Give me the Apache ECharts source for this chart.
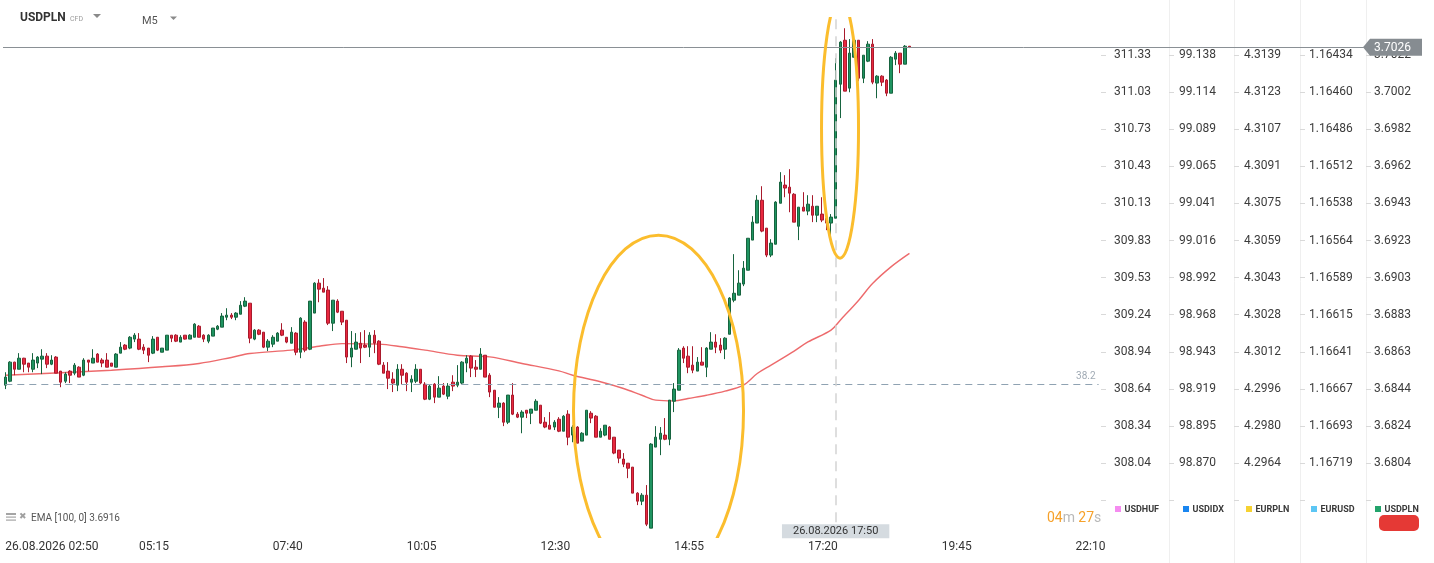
<!DOCTYPE html>
<html><head><meta charset="utf-8">
<script src="https://cdn.jsdelivr.net/npm/echarts@6/dist/echarts.min.js"></script>
<style>html,body{margin:0;padding:0;background:#fff;}#c{width:1434px;height:563px;}</style>
</head><body><div id="c"></div>
<script>
// ---------------- data ----------------
const tickLabels = ['26.08.2026 02:50','05:15','07:40','10:05','12:30','14:55','17:20','19:45','22:10'];
const openP = [3.68456,3.68477,3.68579,3.68541,3.68600,3.68574,3.68541,3.68574,3.68595,3.68611,
3.68568,3.68606,3.68531,3.68477,3.68531,3.68520,3.68552,3.68509,3.68590,3.68574,
3.68622,3.68590,3.68590,3.68574,3.68552,3.68627,3.68670,3.68654,3.68702,3.68702,
3.68659,3.68654,3.68627,3.68712,3.68632,3.68643,3.68723,3.68723,3.68686,3.68723,
3.68702,3.68712,3.68771,3.68723,3.68691,3.68718,3.68755,3.68766,3.68819,3.68830,
3.68819,3.68835,3.68878,3.68894,3.68702,3.68750,3.68739,3.68659,3.68675,3.68691,
3.68750,3.68712,3.68680,3.68734,3.68632,3.68793,3.68648,3.68841,3.69001,3.68974,
3.68964,3.68787,3.68905,3.68851,3.68803,3.68606,3.68648,3.68680,3.68670,3.68659,
3.68723,3.68691,3.68563,3.68531,3.68488,3.68456,3.68541,3.68520,3.68472,3.68477,
3.68541,3.68461,3.68381,3.68461,3.68392,3.68451,3.68397,3.68472,3.68456,3.68467,
3.68574,3.68611,3.68552,3.68541,3.68616,3.68509,3.68429,3.68338,3.68360,3.68258,
3.68403,3.68301,3.68285,3.68322,3.68306,3.68322,3.68349,3.68258,3.68242,3.68232,
3.68274,3.68210,3.68301,3.68189,3.68232,3.68157,3.68189,3.68306,3.68290,3.68178,
3.68189,3.68232,3.68178,3.68109,3.68061,3.68039,3.68018,3.67879,3.67836,3.67868,
3.67692,3.68125,3.68167,3.68189,3.68167,3.68370,3.68429,3.68654,3.68611,3.68563,
3.68531,3.68579,3.68552,3.68648,3.68686,3.68670,3.68648,3.68728,3.68910,3.68937,
3.68996,3.69070,3.69231,3.69322,3.69444,3.69295,3.69151,3.69209,3.69428,3.69525,
3.69514,3.69476,3.69305,3.69407,3.69386,3.69412,3.69364,3.69370,3.69348,3.69322,
3.69348,3.70064,3.70299,3.70043,3.70208,3.70299,3.70096,3.70187,3.70278,3.70070,
3.70107,3.70086,3.70016,3.70198,3.70230,3.70171,3.70267];
const closeP = [3.68499,3.68579,3.68541,3.68600,3.68568,3.68552,3.68590,3.68606,3.68611,3.68568,
3.68590,3.68520,3.68472,3.68515,3.68509,3.68563,3.68499,3.68590,3.68579,3.68600,
3.68579,3.68574,3.68552,3.68557,3.68622,3.68659,3.68648,3.68712,3.68723,3.68648,
3.68643,3.68616,3.68702,3.68643,3.68654,3.68723,3.68707,3.68691,3.68712,3.68702,
3.68723,3.68782,3.68712,3.68702,3.68723,3.68761,3.68771,3.68825,3.68830,3.68819,
3.68841,3.68883,3.68905,3.68707,3.68750,3.68728,3.68659,3.68691,3.68712,3.68734,
3.68723,3.68686,3.68739,3.68632,3.68814,3.68643,3.68905,3.69001,3.68969,3.68953,
3.68787,3.68910,3.68846,3.68793,3.68606,3.68654,3.68686,3.68654,3.68659,3.68723,
3.68680,3.68568,3.68520,3.68493,3.68467,3.68541,3.68509,3.68472,3.68488,3.68541,
3.68467,3.68381,3.68451,3.68392,3.68440,3.68408,3.68451,3.68451,3.68472,3.68579,
3.68600,3.68547,3.68541,3.68622,3.68499,3.68419,3.68338,3.68360,3.68258,3.68403,
3.68301,3.68285,3.68312,3.68306,3.68328,3.68370,3.68253,3.68232,3.68221,3.68258,
3.68210,3.68290,3.68178,3.68232,3.68146,3.68199,3.68322,3.68280,3.68178,3.68210,
3.68242,3.68167,3.68093,3.68066,3.68034,3.68012,3.67879,3.67836,3.67868,3.67713,
3.68141,3.68178,3.68199,3.68167,3.68376,3.68435,3.68643,3.68600,3.68552,3.68536,
3.68579,3.68563,3.68654,3.68686,3.68659,3.68643,3.68707,3.68921,3.68947,3.69001,
3.69081,3.69241,3.69327,3.69444,3.69279,3.69151,3.69215,3.69434,3.69541,3.69509,
3.69482,3.69327,3.69407,3.69386,3.69423,3.69364,3.69412,3.69338,3.69322,3.69354,
3.70086,3.70289,3.70027,3.70230,3.70299,3.70096,3.70219,3.70278,3.70075,3.70107,
3.70075,3.70016,3.70208,3.70230,3.70171,3.70267,3.70262];
const highP = [3.68525,3.68584,3.68581,3.68627,3.68602,3.68574,3.68627,3.68611,3.68648,3.68627,
3.68616,3.68611,3.68531,3.68525,3.68536,3.68574,3.68557,3.68600,3.68590,3.68648,
3.68627,3.68600,3.68627,3.68574,3.68627,3.68686,3.68675,3.68718,3.68734,3.68734,
3.68675,3.68654,3.68718,3.68712,3.68654,3.68723,3.68723,3.68728,3.68723,3.68723,
3.68728,3.68787,3.68777,3.68728,3.68728,3.68761,3.68777,3.68841,3.68867,3.68841,
3.68846,3.68905,3.68926,3.68894,3.68755,3.68755,3.68739,3.68702,3.68723,3.68739,
3.68787,3.68712,3.68766,3.68739,3.68819,3.68803,3.68905,3.69006,3.69022,3.69028,
3.68985,3.68910,3.68915,3.68851,3.68803,3.68745,3.68734,3.68739,3.68750,3.68739,
3.68750,3.68696,3.68579,3.68579,3.68525,3.68568,3.68568,3.68525,3.68509,3.68568,
3.68541,3.68472,3.68461,3.68467,3.68504,3.68467,3.68467,3.68509,3.68563,3.68584,
3.68616,3.68616,3.68590,3.68654,3.68616,3.68520,3.68429,3.68392,3.68365,3.68403,
3.68467,3.68312,3.68322,3.68322,3.68328,3.68381,3.68349,3.68285,3.68312,3.68269,
3.68285,3.68296,3.68322,3.68242,3.68237,3.68205,3.68322,3.68317,3.68296,3.68226,
3.68242,3.68237,3.68178,3.68109,3.68093,3.68039,3.68018,3.67884,3.67879,3.67922,
3.68146,3.68237,3.68232,3.68280,3.68376,3.68467,3.68654,3.68664,3.68664,3.68664,
3.68606,3.68659,3.68659,3.68739,3.68728,3.68707,3.68712,3.68926,3.69156,3.69070,
3.69119,3.69241,3.69359,3.69471,3.69519,3.69295,3.69236,3.69439,3.69594,3.69578,
3.69610,3.69482,3.69407,3.69487,3.69471,3.69471,3.69412,3.69460,3.69364,3.69370,
3.70203,3.70294,3.70363,3.70305,3.70331,3.70299,3.70219,3.70294,3.70305,3.70112,
3.70112,3.70091,3.70214,3.70241,3.70230,3.70273,3.70267];
const lowP = [3.68435,3.68472,3.68509,3.68541,3.68525,3.68525,3.68525,3.68547,3.68515,3.68547,
3.68563,3.68520,3.68445,3.68467,3.68467,3.68509,3.68499,3.68504,3.68531,3.68574,
3.68579,3.68552,3.68552,3.68557,3.68552,3.68627,3.68643,3.68648,3.68686,3.68643,
3.68622,3.68579,3.68622,3.68638,3.68632,3.68643,3.68686,3.68686,3.68686,3.68700,
3.68702,3.68712,3.68712,3.68686,3.68680,3.68718,3.68750,3.68766,3.68803,3.68809,
3.68803,3.68835,3.68873,3.68680,3.68696,3.68723,3.68654,3.68638,3.68659,3.68691,
3.68718,3.68680,3.68680,3.68616,3.68600,3.68632,3.68643,3.68841,3.68899,3.68953,
3.68777,3.68745,3.68841,3.68777,3.68574,3.68552,3.68648,3.68574,3.68654,3.68606,
3.68627,3.68563,3.68520,3.68435,3.68419,3.68424,3.68461,3.68424,3.68419,3.68467,
3.68461,3.68376,3.68376,3.68360,3.68392,3.68403,3.68381,3.68424,3.68445,3.68461,
3.68525,3.68499,3.68499,3.68541,3.68499,3.68392,3.68338,3.68280,3.68237,3.68248,
3.68296,3.68280,3.68199,3.68280,3.68248,3.68322,3.68248,3.68226,3.68221,3.68216,
3.68205,3.68210,3.68135,3.68151,3.68146,3.68157,3.68189,3.68253,3.68178,3.68178,
3.68183,3.68167,3.68087,3.68039,3.68018,3.67959,3.67879,3.67815,3.67815,3.67703,
3.67692,3.68125,3.68082,3.68162,3.68135,3.68312,3.68429,3.68574,3.68520,3.68520,
3.68531,3.68563,3.68499,3.68648,3.68627,3.68627,3.68595,3.68728,3.68899,3.68937,
3.68985,3.69070,3.69231,3.69322,3.69273,3.69140,3.69140,3.69209,3.69428,3.69460,
3.69380,3.69327,3.69231,3.69386,3.69364,3.69327,3.69327,3.69327,3.69284,3.69247,
3.69348,3.69883,3.70027,3.70021,3.70208,3.70080,3.70070,3.70182,3.70064,3.69989,
3.70054,3.70000,3.70016,3.70166,3.70123,3.70171,3.70257];
const emaIdx = [0,12,23,34,42,49,53,62,68,73,81,86,91,98,105,112,120,123,129,134,138,141,145,148,152,156,160,163,166,171,174,179,181,185,188,192,196];
const emaVal = [3.68509,3.68522,3.68536,3.68554,3.68572,3.68604,3.68625,3.68643,3.68664,3.68678,3.68675,3.68661,3.68643,3.68616,3.68607,3.68572,3.68532,3.68509,3.68474,3.68438,3.68402,3.68376,3.68372,3.68385,3.68402,3.68424,3.68456,3.68518,3.68563,3.68638,3.68687,3.68750,3.68803,3.68910,3.68999,3.69088,3.69160];
const colUSDHUF = ['311.33','311.03','310.73','310.43','310.13','309.83','309.53','309.24','308.94','308.64','308.34','308.04'];
const colUSDIDX = ['99.138','99.114','99.089','99.065','99.041','99.016','98.992','98.968','98.943','98.919','98.895','98.870'];
const colEURPLN = ['4.3139','4.3123','4.3107','4.3091','4.3075','4.3059','4.3043','4.3028','4.3012','4.2996','4.2980','4.2964'];
const colEURUSD = ['1.16434','1.16460','1.16486','1.16512','1.16538','1.16564','1.16589','1.16615','1.16641','1.16667','1.16693','1.16719'];
const colUSDPLN = ['3.7022','3.7002','3.6982','3.6962','3.6943','3.6923','3.6903','3.6883','3.6863','3.6844','3.6824','3.6804'];
const legendNames = ['USDHUF','USDIDX','EURPLN','EURUSD','USDPLN'];
const legendColors = ['#f58cf0','#1a86f0','#f6d232','#5cc6f4','#23a36b'];
const fibLevel = 3.68461, fibLabel = '38.2', fibEndIdx = 237;
const markIdx = 180, markDate = '26.08.2026';
const vLineLow = 3.67724, vLineHigh = 3.70417;
// annotation ellipses: [centre index, centre price, radius in bars, radius in price]
const ellipses = [[141.6, 3.68319, 18.43, 0.009383], [180.95, 3.69829, 4.01, 0.006946]];
const yMin = 3.676393, yMax = 3.704231;
// ---------------- build ----------------
const NCAT = 295, BAND = 4.613;
const pad = n => (n < 10 ? '0' : '') + n;
const times = [];
for (let i = 0; i < NCAT; i++) { const m = 170 + 5 * i; times.push(pad(Math.floor(m / 60)) + ':' + pad(m % 60)); }
const candles = openP.map((o, i) => [o, closeP[i], lowP[i], highP[i]]);
const emaData = emaIdx.map((x, k) => [x, emaVal[k]]);
const lastClose = closeP[closeP.length - 1];
const FONT = 'Roboto, "Noto Sans", sans-serif';

const cols = [colUSDHUF, colUSDIDX, colEURPLN, colEURUSD, colUSDPLN];
const colOffsets = [0, 68, 133, 199, 265];
const colMargins = [13, 10, 10, 9, 8];
const labelAxes = cols.map((arr, k) => ({
  type: 'value', gridIndex: 1, position: 'right', offset: colOffsets[k],
  min: 0, max: 12.5, interval: 1,
  axisLine: { show: false, onZero: false },
  axisTick: { show: true, length: 5, lineStyle: { color: '#d9d9d9' } },
  splitLine: { show: false },
  axisLabel: { margin: colMargins[k], color: '#3b3b3b', fontSize: 12, fontFamily: FONT, showMaxLabel: false,
    formatter: v => (v >= 1 && v <= 12 ? arr[12 - v] : '') }
}));

const chart = echarts.init(document.getElementById('c'));
chart.setOption({
  animation: false,
  backgroundColor: '#ffffff',
  grid: [
    { left: 3, top: 17, width: NCAT * BAND, height: 521 },
    { left: 1097, top: 36.56, width: 4, height: 463.64 }
  ],
  xAxis: [
    { type: 'category', gridIndex: 0, data: times, boundaryGap: true,
      axisLine: { show: false, onZero: false }, axisTick: { show: false }, splitLine: { show: false },
      axisLabel: { interval: idx => idx % 29 === 0 && idx / 29 < tickLabels.length,
        formatter: (v, idx) => (idx % 29 === 0 && idx / 29 < tickLabels.length ? tickLabels[idx / 29] : ''),
        align: 'left', margin: 3, color: '#333333', fontSize: 12, fontFamily: FONT } },
    { type: 'value', gridIndex: 0, min: -0.5, max: NCAT - 0.5, show: false, axisLine: { onZero: false } },
    { type: 'value', gridIndex: 1, min: 0, max: 1, show: false, axisLine: { onZero: false } }
  ],
  yAxis: [
    { type: 'value', gridIndex: 0, min: yMin, max: yMax, show: false, splitLine: { show: false }, axisLine: { onZero: false } }
  ].concat(labelAxes),
  series: [
    { type: 'line', name: 'EMA', xAxisIndex: 1, yAxisIndex: 0, data: emaData, smooth: 0.35,
      symbol: 'none', z: 1, lineStyle: { color: 'rgba(232,64,66,0.78)', width: 1.4 } },
    { type: 'candlestick', xAxisIndex: 0, yAxisIndex: 0, data: candles, barWidth: 3, z: 2,
      itemStyle: { color: '#1f9461', color0: '#e8283f', borderColor: '#17643f', borderColor0: '#a91a2c', borderWidth: 1 },
      markLine: { symbol: ['none', 'none'], silent: true, animation: false, precision: 6,
        data: [
          { yAxis: lastClose, lineStyle: { color: '#8a9095', width: 1, type: 'solid' }, label: { show: false } },
          [ { coord: [times[0], fibLevel], lineStyle: { color: '#8fa2b2', width: 1.2, type: [7, 5] },
              label: { show: true, position: 'insideEndTop', formatter: fibLabel, color: '#a0aab4', fontSize: 10, fontFamily: FONT, distance: 3 } },
            { coord: [times[fibEndIdx], fibLevel] } ],
          [ { coord: [times[markIdx], vLineLow], lineStyle: { color: '#d4d4d4', width: 1.5, type: [10, 7] },
              label: { show: true, position: 'start', distance: 2, formatter: markDate + ' ' + times[markIdx],
                backgroundColor: '#d5dbe0', color: '#333333', fontSize: 11, fontFamily: FONT, padding: [2, 11, 1, 11] } },
            { coord: [times[markIdx], vLineHigh] } ]
        ] } },
    { type: 'custom', xAxisIndex: 1, yAxisIndex: 0, clip: true, z: 5, data: ellipses,
      encode: { x: 0, y: 1 },
      renderItem: (params, api) => {
        const c = api.coord([api.value(0), api.value(1)]);
        const s = api.size([api.value(2), api.value(3)]);
        return { type: 'ellipse', shape: { cx: c[0], cy: c[1], rx: s[0], ry: s[1] },
          style: { fill: 'none', stroke: '#fbbd2d', lineWidth: 3 } };
      } }
  ]
});

const py = chart.convertToPixel({ yAxisIndex: 0 }, lastClose);
const g = [];
[1169, 1234, 1300, 1366].forEach(x => g.push({ type: 'line', silent: true, z: -10,
  shape: { x1: x + 0.5, y1: 0, x2: x + 0.5, y2: 563 }, style: { stroke: '#efefef', lineWidth: 1 } }));
const txt = (x, y, text, font, fill, align) => ({ type: 'text', x: x, y: y, silent: true, z: 100,
  style: { text: text, font: font, fill: fill, align: align || 'left', textAlign: align || 'left', verticalAlign: 'middle', textVerticalAlign: 'middle' } });
g.push(txt(20, 18, 'USDPLN', 'bold 12px ' + FONT, '#333333'));
g.push(txt(70, 19, 'CFD', '7px ' + FONT, '#9a9a9a'));
g.push({ type: 'polygon', silent: true, shape: { points: [[93, 14], [101, 14], [97, 18]] }, style: { fill: '#8a8a8a' } });
g.push(txt(142, 21, 'M5', '11px ' + FONT, '#555555'));
g.push({ type: 'polygon', silent: true, shape: { points: [[170, 16.5], [177, 16.5], [173.5, 20]] }, style: { fill: '#8a8a8a' } });
// EMA caption
g.push({ type: 'rect', silent: true, shape: { x: 6, y: 513, width: 10, height: 2 }, style: { fill: '#a5a5a5' } });
g.push({ type: 'rect', silent: true, shape: { x: 6, y: 516.5, width: 10, height: 1.2 }, style: { fill: '#a5a5a5' } });
g.push({ type: 'rect', silent: true, shape: { x: 6, y: 519.5, width: 10, height: 1.2 }, style: { fill: '#a5a5a5' } });
g.push(txt(19, 517, '✖', '9px "DejaVu Sans"', '#a0a0a0'));
g.push(txt(31, 518, 'EMA [100, 0] ' + emaVal[emaVal.length - 1].toFixed(4), '10px ' + FONT, '#555555'));
// countdown
g.push({ type: 'text', x: 1047, y: 518, silent: true, style: { text: '{o|04}{g|m} {o|27}{g|s}', verticalAlign: 'middle', textVerticalAlign: 'middle',
  rich: { o: { fill: '#f6a12a', font: '14px ' + FONT }, g: { fill: '#b9b9b9', font: '14px ' + FONT } } } });
// legend
const lx = [1115, 1183, 1246, 1311, 1375];
legendNames.forEach((n, k) => {
  g.push({ type: 'rect', silent: true, shape: { x: lx[k], y: 506, width: 6, height: 6 }, style: { fill: legendColors[k] } });
  g.push(txt(lx[k] + 9.5, 509.5, n, 'bold 9px ' + FONT, '#3a3a3a'));
});
g.push({ type: 'rect', silent: true, shape: { x: 1379, y: 515, width: 40, height: 16, r: 5 }, style: { fill: '#e53935' } });
// price tag
g.push({ type: 'polygon', silent: true, z: 110, shape: { points: [[1363, py], [1370, py - 8.5], [1422, py - 8.5], [1422, py + 8.5], [1370, py + 8.5]] }, style: { fill: '#868c91' } });
g.push(Object.assign(txt(1374, py + 0.5, lastClose.toFixed(4), '12px ' + FONT, '#ffffff'), { z: 120 }));
chart.setOption({ graphic: g });
</script>
</body></html>
